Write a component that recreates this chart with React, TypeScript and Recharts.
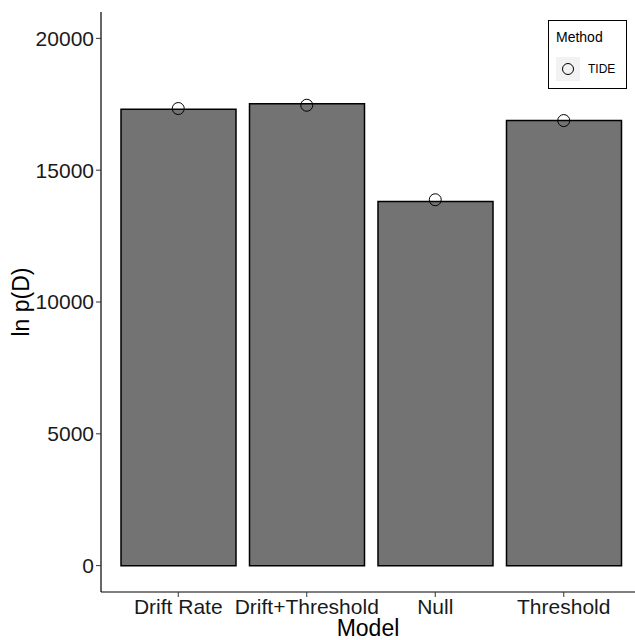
import { ComposedChart, Bar, Scatter, XAxis, YAxis, Legend } from 'recharts';

const models = ['Drift Rate', 'Drift+Threshold', 'Null', 'Threshold'];
const lnPD = [17312, 17517, 13814, 16882];
const tide = [17338, 17464, 13878, 16882];
const yTicks = [0, 5000, 10000, 15000, 20000];

const data = models.map((m, i) => ({ model: m, lnPD: lnPD[i], tide: tide[i] }));

const font = '"Liberation Sans", Arial, sans-serif';

const MethodLegend = () => (
  <div
    style={{
      border: '1px solid #000',
      width: 79,
      height: 69,
      boxSizing: 'border-box',
      fontFamily: font,
      color: '#000',
      position: 'relative',
      background: '#fff',
    }}
  >
    <div style={{ position: 'absolute', left: 7, top: 8, fontSize: 14 }}>Method</div>
    <div
      style={{
        position: 'absolute',
        left: 7,
        top: 36,
        width: 24,
        height: 24,
        background: '#f2f2f2',
      }}
    >
      <svg width={24} height={24} style={{ display: 'block' }}>
        <circle cx={12} cy={12} r={5.5} fill="none" stroke="#000" strokeWidth={1} />
      </svg>
    </div>
    <div style={{ position: 'absolute', left: 39, top: 41, fontSize: 12 }}>TIDE</div>
  </div>
);

const OpenCircle = (props: any) => {
  const { cx, cy } = props;
  return <circle cx={cx} cy={cy} r={6} fill="none" stroke="#000" strokeWidth={1} />;
};

export default function App() {
  return (
    <div style={{ position: 'absolute', left: 0, top: 0, background: '#fff' }}>
      <ComposedChart
        width={635}
        height={640}
        data={data}
        margin={{ top: 12, right: 0, left: 0, bottom: 0 }}
        barCategoryGap={7}
      >
        <XAxis
          dataKey="model"
          type="category"
          height={48}
          padding={{ left: 13, right: 7 }}
          axisLine={{ stroke: '#000', strokeWidth: 1.2 }}
          tickLine={{ stroke: '#333' }}
          tickSize={5}
          tick={{ fill: '#1a1a1a', fontSize: 21, fontFamily: font }}
          interval={0}
          label={{
            value: 'Model',
            position: 'insideBottom',
            offset: 4,
            fill: '#000',
            fontSize: 23,
            fontFamily: font,
          }}
        />
        <YAxis
          type="number"
          domain={[-1000, 21000]}
          ticks={yTicks}
          width={101}
          allowDataOverflow
          axisLine={{ stroke: '#000', strokeWidth: 1.2 }}
          tickLine={{ stroke: '#333' }}
          tickSize={5}
          tick={{ fill: '#1a1a1a', fontSize: 21, fontFamily: font }}
          label={{
            value: 'ln p(D)',
            angle: -90,
            position: 'insideLeft',
            offset: 21,
            style: { textAnchor: 'middle' },
            fill: '#000',
            fontSize: 23,
            fontFamily: font,
          }}
        />
        <Legend
          layout="horizontal"
          verticalAlign="middle"
          align="center"
          content={() => <MethodLegend />}
          wrapperStyle={{ position: 'absolute', left: 548, top: 20, width: 'auto' }}
        />
        <Bar
          dataKey="lnPD"
          fill="#737373"
          stroke="#000"
          strokeWidth={1.5}
          isAnimationActive={false}
          legendType="none"
        />
        <Scatter
          dataKey="tide"
          name="TIDE"
          shape={<OpenCircle />}
          isAnimationActive={false}
        />
      </ComposedChart>
    </div>
  );
}
